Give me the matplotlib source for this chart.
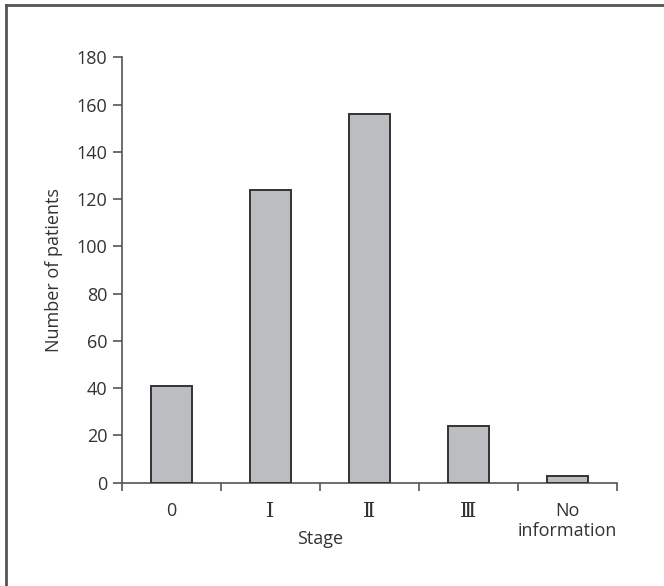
import matplotlib
matplotlib.use("Agg")
import matplotlib.pyplot as plt
from matplotlib.lines import Line2D

plt.rcParams["font.family"] = ["Open Sans", "DejaVu Sans"]

# data
stages = ["0", "\u2160", "\u2161", "\u2162", "No\ninformation"]
patients = [41, 124, 156, 24, 3]
y_ticks = [0, 20, 40, 60, 80, 100, 120, 140, 160, 180]

text_color = "#333333"
axis_color = "#555555"

fig = plt.figure(figsize=(6.64, 5.86), dpi=100)
ax = fig.add_axes([0.1837, 0.1763, 0.7455, 0.7259])

x = range(len(stages))
ax.bar(x, patients, width=0.41, color="#bcbdc1", edgecolor="#333333",
       linewidth=1.4, zorder=3)

ax.set_xlim(-0.5, len(stages) - 0.5)
ax.set_ylim(0, 180)
ax.set_yticks(y_ticks)

# category boundaries as tick marks, labels at centers
ax.set_xticks([i - 0.5 for i in range(len(stages) + 1)])
ax.set_xticklabels([])
ax.set_xticks(list(x), minor=True)
ax.set_xticklabels(stages, minor=True, fontsize=13, color=text_color,
                   linespacing=1.15)
for lab in ax.get_xticklabels(minor=True)[1:4]:
    lab.set_family(["DejaVu Serif"])
    lab.set_fontsize(15)
ax.tick_params(axis="x", which="minor", length=0, pad=14)
ax.tick_params(axis="x", which="major", length=6, width=1.2,
               color=axis_color, direction="out")
ax.tick_params(axis="y", length=6.5, width=1.2, color=axis_color,
               direction="out", labelsize=13, labelcolor=text_color, pad=4)

for side in ["top", "right"]:
    ax.spines[side].set_visible(False)
for side in ["left", "bottom"]:
    ax.spines[side].set_color(axis_color)
    ax.spines[side].set_linewidth(1.2)

ax.set_xlabel("Stage", fontsize=13, color=text_color, va="center")
ax.xaxis.set_label_coords(0.4, -0.132)
ax.set_ylabel("Number of patients", fontsize=13, color=text_color, labelpad=10)

# outer frame: left and top edges only
fig.add_artist(Line2D([6 / 664, 6 / 664], [0, 1 - 5 / 586],
                      transform=fig.transFigure, color=axis_color, lw=2))
fig.add_artist(Line2D([6 / 664, 1], [1 - 5 / 586, 1 - 5 / 586],
                      transform=fig.transFigure, color=axis_color, lw=2))

fig.savefig("out.png", dpi=100, facecolor="white")
